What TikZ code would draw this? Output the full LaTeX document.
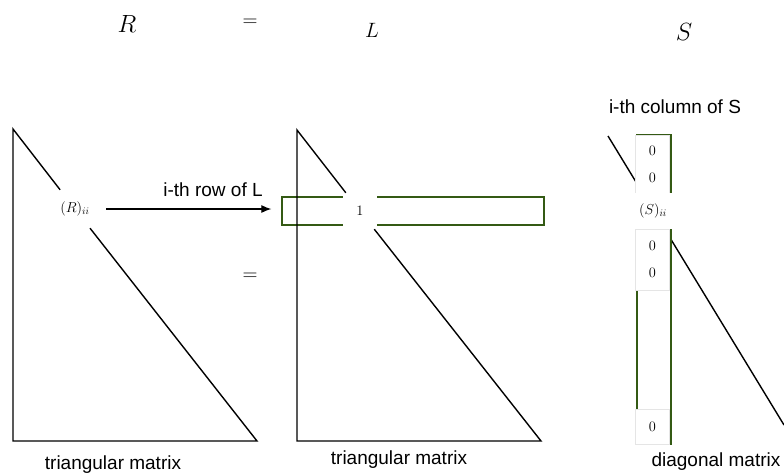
\documentclass[tikz,border=0pt]{standalone}
\usepackage{fontspec}
\setsansfont{Liberation Sans}
\usetikzlibrary{arrows.meta,positioning}
\definecolor{rowgreen}{RGB}{52,90,20}

\begin{document}
\begin{tikzpicture}[x=1pt, y=-1pt, >={Latex[length=10pt,width=8pt]},
font=\sffamily\fontsize{19}{22}\selectfont,
edge/.style={line width=1.4pt},
hole/.style={fill=white, inner sep=0pt, font=\fontsize{14}{16}\selectfont},
rowbox/.style={draw=rowgreen, line width=1.3pt, inner sep=0pt},
cell/.style={draw=gray!20, fill=white, line width=0.8pt, inner sep=0pt, minimum width=34pt, align=center, font=\fontsize{15}{27}\selectfont},
sym/.style={inner sep=0pt}]
\useasboundingbox (0,0) rectangle (784,475);
% equation on top
\node[sym, font=\fontsize{26}{30}\selectfont] (R) at (127,24) {$R$};
\node[sym, font=\fontsize{21}{24}\selectfont] (eqtop) at (250,23) {$=$};
\node[sym, font=\fontsize{20}{24}\selectfont] (L) at (372,30) {$L$};
\node[sym, font=\fontsize{24}{28}\selectfont] (S) at (684,32) {$S$};
% R
\coordinate (rtop) at (13,129); \coordinate (rbot) at (13,441); \coordinate (rend) at (257,441);
\node[hole, minimum width=62pt, minimum height=38pt] (Rii) at (75,209) {$(R)_{ii}$};
\draw[edge] (Rii) -- (rtop) -- (rbot) -- (rend) -- (Rii);
\node (labR) at (113,465) {triangular matrix};
% L
\coordinate (ltop) at (297,130); \coordinate (lbot) at (297,441); \coordinate (lend) at (541,441);
\node[rowbox, minimum width=262pt, minimum height=28pt] (rowL) at (413,211) {};
\node[hole, minimum width=34pt, minimum height=36pt, font=\fontsize{15}{17}\selectfont] (one) at (360,211) {$1$};
\draw[edge] (one) -- (ltop) -- (lbot) -- (lend) -- (one);
\node (labL) at (399,460) {triangular matrix};
\node[sym, font=\fontsize{21}{24}\selectfont] (eqmid) at (250,277) {$=$};
\draw[->, line width=1.2pt, shorten >=10pt] (Rii.east) -- (Rii.east -| rowL.west) node[pos=0.61, above=8.5pt] (rowtxt) {i-th row of L};
% S
\coordinate (stop) at (608,136); \coordinate (send) at (784,425);
\draw[edge] (stop) -- (send);
\node[rowbox, minimum width=34pt, minimum height=309pt] (colS) at (654,289.5) {};
\node[cell, minimum height=58pt] (zA) at (652.5,164) {$0$\\$0$};
\node[hole, minimum width=42pt, minimum height=36pt] (Sii) at (653,211) {$(S)_{ii}$};
\node[cell, minimum height=61pt] (zB) at (652.5,259.5) {$0$\\$0$};
\node[cell, minimum height=35pt] (zC) at (652.5,426.5) {$0$};
\node (coltxt) at (675,107) {i-th column of S};
\node (labS) at (716,462) {diagonal matrix};
\end{tikzpicture}
\end{document}
